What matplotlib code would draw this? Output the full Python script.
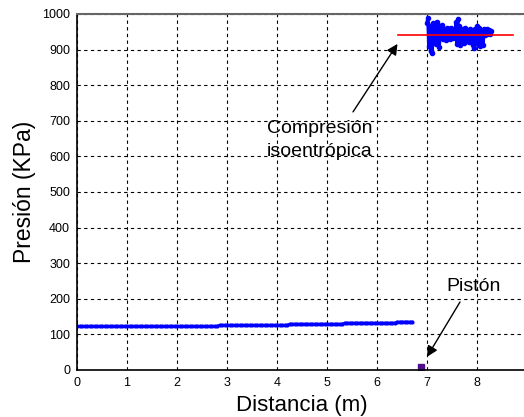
import numpy as np
import matplotlib
matplotlib.use("Agg")
import matplotlib.pyplot as plt

plt.rcParams['font.family'] = ['Liberation Sans', 'DejaVu Sans']

# Pressure along the tube before the piston (kPa), as run-length levels
low_levels = [123, 126, 129, 132, 135]
low_counts = [57, 28, 22, 21, 7]
low_x_start, low_x_step = 0.0, 0.05

# Pressure measured in the compressed region (kPa)
high_x_range = (7.0, 8.28)
high_values = [975, 990, 910, 965, 895, 950, 890, 975, 930, 960, 915, 978, 925,
               965, 908, 955, 935, 970, 930, 958, 940, 955, 928, 960, 935, 950,
               930, 962, 938, 948, 932, 955, 940, 978, 915, 985, 920, 965, 913,
               950, 940, 958, 918, 960, 925, 955, 935, 952, 920, 958, 930, 950,
               912, 955, 905, 958, 930, 965, 915, 962, 910, 955, 935, 950, 912,
               958, 940, 955, 945, 958, 948, 955, 945, 952]

# Isentropic compression level (kPa) and its extent (m)
isentropic_p = 940
isentropic_x = [6.42, 8.72]

# Piston position (m) and marker height (kPa)
piston_x = 6.88
piston_p = 8

x_ticks = [0, 1, 2, 3, 4, 5, 6, 7, 8]
y_ticks = [0, 100, 200, 300, 400, 500, 600, 700, 800, 900, 1000]

low_y = np.repeat(low_levels, low_counts)
low_x = low_x_start + low_x_step * np.arange(len(low_y))
high_x = np.linspace(high_x_range[0], high_x_range[1], len(high_values))

fig = plt.figure(figsize=(5.24, 4.17), dpi=100)
ax = fig.add_axes([77 / 524, 1 - 370 / 417, 450 / 524, 356 / 417])

ax.plot(low_x, low_y, color='blue', lw=1.8, marker='.', ms=4)
ax.plot(high_x, high_values, color='blue', lw=2.4, marker='.', ms=6)
ax.plot(isentropic_x, [isentropic_p, isentropic_p], color='red', lw=1.2)
ax.plot([piston_x], [piston_p], marker='s', ms=5, color=(0.3, 0.05, 0.55),
        linestyle='none')

ax.set_xlim(0, 9)
ax.set_ylim(0, 1000)
ax.set_xticks(x_ticks)
ax.set_yticks(y_ticks)
ax.tick_params(length=0, labelsize=9, pad=5, colors='black')
ax.grid(True, color='black', linestyle=(0, (3, 3)), lw=0.8)
ax.set_axisbelow(True)

for side in ['left', 'bottom']:
    ax.spines[side].set_color('black')
    ax.spines[side].set_linewidth(1.2)
ax.spines['top'].set_color('#666666')
ax.spines['top'].set_linewidth(1.5)
ax.spines['right'].set_visible(False)

ax.set_xlabel('Distancia (m)', fontsize=16, labelpad=4)
ax.set_ylabel('Presión (KPa)', fontsize=16.5, labelpad=4)

arrow = dict(arrowstyle='-|>', color='black', lw=1.0, mutation_scale=16,
             shrinkA=0, shrinkB=0)
ax.annotate('', xy=(6.41, 916), xytext=(5.52, 725), arrowprops=arrow)
ax.text(4.86, 665, 'Compresión', fontsize=14, ha='center', va='baseline')
ax.text(4.86, 602, 'isoentrópica', fontsize=14, ha='center', va='baseline')

ax.annotate('', xy=(7.0, 37), xytext=(7.66, 191), arrowprops=arrow)
ax.text(7.93, 221, 'Pistón', fontsize=14, ha='center', va='baseline')

fig.savefig('out.png', dpi=100)
